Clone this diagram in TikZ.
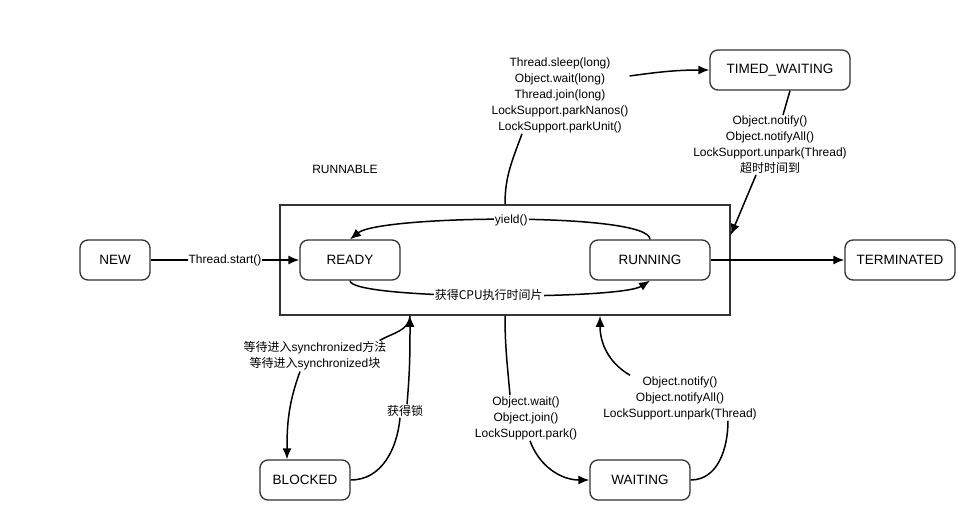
\documentclass[tikz,border=0pt]{standalone}
\usepackage{fontspec}
\setmainfont{Liberation Sans}
\newfontfamily\cjk{Noto Sans CJK SC}
\newcommand{\zh}[1]{{\cjk #1}}
\usetikzlibrary{arrows.meta}

\begin{document}
\begin{tikzpicture}[x=1pt,y=1pt]
	\tikzstyle{sharp} = [-{Latex[length=11pt,width=9pt]}, line width=1.5pt]
	\tikzstyle{wire} = [line width=1.5pt]
	\tikzstyle{state} = [draw=black!80, line width=1.3pt, rounded corners=8pt, minimum height=40pt, font=\fontsize{13.5}{16}\selectfont]
	\tikzstyle{cond} = [fill=white, inner sep=1pt, align=center, font=\fontsize{12}{16}\selectfont]
	\useasboundingbox (0,0) rectangle (975,-520);
	% states
	\node (myrunnable) [draw=black!80, line width=1.6pt, minimum width=450pt, minimum height=110pt] at (505,-260) {};
	\node (lrunnable) [font=\fontsize{12}{16}\selectfont] at (345,-169) {RUNNABLE};
	\node (mynew) [state, minimum width=70pt] at (115,-260) {NEW};
	\node (myready) [state, minimum width=100pt] at (350,-260) {READY};
	\node (myrunning) [state, minimum width=120pt] at (650,-260) {RUNNING};
	\node (myterminated) [state, minimum width=110pt] at (900,-260) {TERMINATED};
	\node (mytimed) [state, minimum width=140pt] at (780,-70) {TIMED\_WAITING};
	\node (myblocked) [state, minimum width=90pt] at (305,-480) {BLOCKED};
	\node (mywaiting) [state, minimum width=100pt] at (640,-480) {WAITING};
	% labels
	\node (lsleep) [cond] at (560,-95) {Thread.sleep(long)\\Object.wait(long)\\Thread.join(long)\\LockSupport.parkNanos()\\LockSupport.parkUnit()};
	\node (ltimeout) [cond] at (770,-145) {Object.notify()\\Object.notifyAll()\\LockSupport.unpark(Thread)\\\zh{超时时间到}};
	\node (lwait) [cond] at (526,-418) {Object.wait()\\Object.join()\\LockSupport.park()};
	\node (lnotify) [cond] at (680,-398) {Object.notify()\\Object.notifyAll()\\LockSupport.unpark(Thread)};
	\node (lsync) [cond] at (315,-356) {\zh{等待进入}synchronized\zh{方法}\\\zh{等待进入}synchronized\zh{块}};
	\node (llock) [cond] at (405,-411) {\zh{获得锁}};
	% transitions
	\draw[sharp] (mynew) -- node[cond] (lstart) {Thread.start()} (myready);
	\draw[sharp] (myrunning) -- (myterminated);
	\draw[sharp] (myrunning.north) .. controls (650,-212) and (380,-215) .. node[cond] (lyield) {yield()} (myready.north);
	\draw[sharp] (myready.south) .. controls (350,-300) and (620,-300) .. node[cond] (lcpu) {\zh{获得CPU执行时间片}} (myrunning.south);
	\draw[wire] (myrunnable.north) to[out=90,in=-110] ([xshift=-38pt]lsleep.south);
	\draw[sharp] ([yshift=19pt]lsleep.east) to[out=8,in=180] (mytimed);
	\draw[wire] ([xshift=10pt]mytimed.south) -- ([xshift=13pt]ltimeout.north);
	\draw[sharp] ([xshift=-14pt]ltimeout.south) -- ([yshift=25pt]myrunnable.east);
	\draw[wire] (myrunnable.south) to[out=-90,in=95] ([xshift=-16pt]lwait.north);
	\draw[sharp] ([xshift=4pt]lwait.south) to[out=-70,in=180] (mywaiting.west);
	\draw[wire] (mywaiting.east) to[out=0,in=-90] ([xshift=48pt]lnotify.south);
	\draw[sharp] ([xshift=-50pt]lnotify.north) to[out=150,in=-90] ([xshift=95pt]myrunnable.south);
	\draw[wire] ([xshift=-95pt]myrunnable.south) to[out=-95,in=30] ([xshift=-8pt]lsync.north east);
	\draw[sharp] ([xshift=-15pt]lsync.south) to[out=-110,in=90] ([xshift=-18pt]myblocked.north);
	\draw[wire] (myblocked.east) to[out=0,in=-95] ([xshift=-5pt]llock.south);
	\draw[sharp] ([xshift=2pt]llock.north) to[out=85,in=-90] ([xshift=-95pt]myrunnable.south);
\end{tikzpicture}
\end{document}
